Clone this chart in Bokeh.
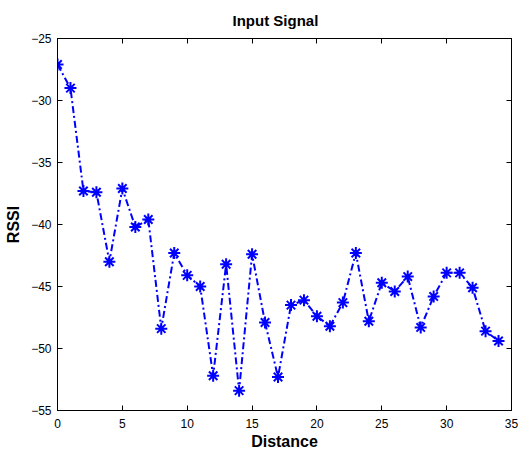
from bokeh.plotting import figure
from bokeh.models import LinearAxis, FixedTicker, Range1d, CustomJSTickFormatter
from bokeh.embed import file_html
from bokeh.resources import INLINE

distance = list(range(35))
rssi = [-27.1, -29.0, -37.3, -37.4, -43.0, -37.1, -40.2, -39.6, -48.4, -42.3,
        -44.1, -45.0, -52.2, -43.2, -53.4, -42.4, -47.9, -52.3, -46.5, -46.1,
        -47.4, -48.2, -46.3, -42.3, -47.8, -44.7, -45.4, -44.2, -48.3, -45.8,
        -43.9, -43.9, -45.1, -48.6, -49.4]
x_ticks = [0, 5, 10, 15, 20, 25, 30, 35]
y_ticks = [-55, -50, -45, -40, -35, -30, -25]

FONT = "Liberation Sans"

p = figure(frame_width=454, frame_height=372, output_backend="svg", toolbar_location=None,
           x_range=Range1d(0, 35), y_range=Range1d(-55, -25),
           min_border_left=57, min_border_right=7, min_border_top=37, min_border_bottom=45,
           title="Input Signal")
p.title.align = "left"
p.title.offset = 175
p.title.text_font = FONT
p.title.text_font_size = "15px"
p.title.text_font_style = "bold"
p.title.text_color = "black"
p.title.standoff = 19
p.grid.visible = False
p.outline_line_color = "black"
p.outline_line_width = 1

for ax in [p.xaxis[0], p.yaxis[0]]:
    ax.major_tick_in = 5
    ax.major_tick_out = 0
    ax.minor_tick_line_color = None
    ax.major_label_text_font = FONT
    ax.major_label_text_font_size = "12px"
    ax.major_label_text_color = "black"
    ax.axis_label_text_font = FONT
    ax.axis_label_text_font_size = "16px"
    ax.axis_label_text_font_style = "bold"
    ax.axis_label_text_color = "black"
    ax.axis_line_color = "black"
p.xaxis[0].ticker = FixedTicker(ticks=x_ticks)
p.yaxis[0].ticker = FixedTicker(ticks=y_ticks)
p.xaxis[0].axis_label = "Distance"
p.yaxis[0].axis_label = "RSSI"
p.xaxis[0].major_label_standoff = 8
p.yaxis[0].major_label_standoff = 6
p.xaxis[0].axis_label_standoff = 2
p.yaxis[0].axis_label_standoff = 6

blank = CustomJSTickFormatter(code="return '';")
top = LinearAxis(ticker=FixedTicker(ticks=x_ticks), major_tick_in=5, major_tick_out=0,
                 minor_tick_line_color=None, formatter=blank, major_label_standoff=0)
right = LinearAxis(ticker=FixedTicker(ticks=y_ticks), major_tick_in=5, major_tick_out=0,
                   minor_tick_line_color=None, formatter=blank, major_label_standoff=0)
p.add_layout(top, "above")
p.add_layout(right, "right")

p.line(distance, rssi, line_color="#0000ff", line_width=2, line_dash="7 3 2 3")
p.scatter(distance, rssi, marker="asterisk", size=12, line_color="#0000ff", line_width=2)

open("out.html", "w").write(file_html(p, INLINE))
